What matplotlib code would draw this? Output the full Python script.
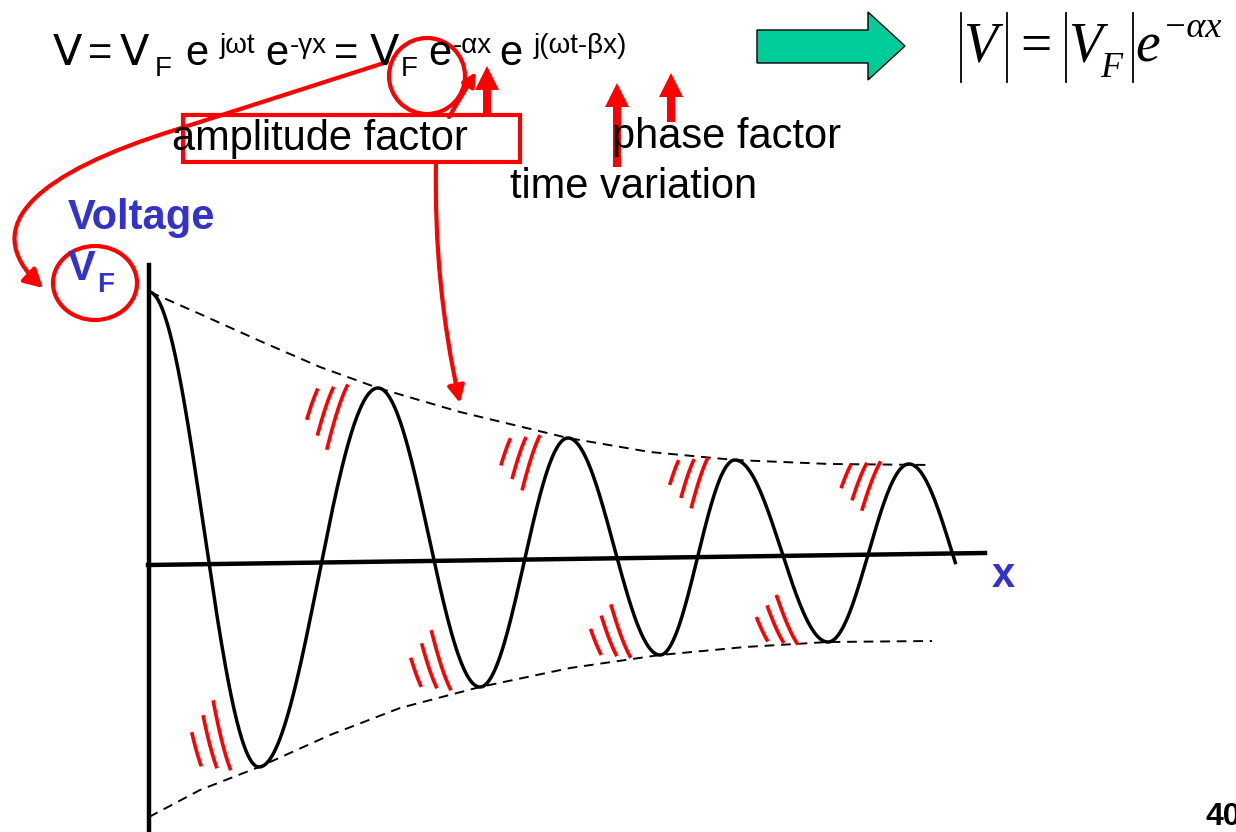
import numpy as np
import matplotlib.pyplot as plt
from matplotlib.patches import Circle, Ellipse, Rectangle, Polygon, FancyArrowPatch
from matplotlib.path import Path

# everything is in pixel units of the 1236x832 slide (y grows downward)
FONT = 'Liberation Sans'
NARROW = 'Liberation Sans Narrow'
SERIF = 'Liberation Serif'
RED = '#ff0000'
BLUE = '#3333cc'
GREEN = '#00cc99'

# extrema of the decaying wave (x, y), last one only steers the tail
ext_x = [149, 259, 378, 480, 568, 660, 735, 828, 909, 995]
ext_y = [292, 767, 388, 687, 438, 655, 460, 642, 464, 640]
wave_end_x = 956

# dashed envelopes
env_up_x = [150, 200, 260, 320, 378, 460, 568, 650, 735, 830, 932]
env_up_y = [292, 314, 341, 367, 388, 412, 438, 452, 460, 464, 465]
env_lo_x = [149, 200, 259, 330, 400, 480, 570, 660, 745, 828, 932]
env_lo_y = [817, 790, 767, 735, 708, 687, 668, 655, 647, 642, 641]

# axes lines
yaxis_x, yaxis_top, yaxis_bot = 149, 265, 832
xaxis_x = [148, 985]
xaxis_y = [565, 553]

# equation pieces: (text, x, baseline, size, family)
eq_pieces = [
    ('V', 53, 65, 31, NARROW), ('=', 88, 65, 30, FONT), ('V', 120, 65, 31, NARROW),
    ('F', 155, 76, 20, FONT), ('e', 185, 65, 30, FONT), ('jωt', 220, 53, 20, FONT),
    ('e', 265, 65, 30, FONT), ('-γx', 290, 53, 20, FONT), ('=', 334, 65, 30, FONT),
    ('V', 370, 65, 31, NARROW), ('F', 401, 76, 20, FONT), ('e', 428, 65, 30, FONT),
    ('-αx', 453, 53, 20, FONT), ('e', 499, 65, 30, FONT), ('j(ωt-βx)', 534, 53, 20, FONT),
]

# |V| = |VF| e^-ax pieces: (text, x, baseline, size)
mag_pieces = [
    ('V', 963, 62, 40), ('=', 1020, 62, 40), ('V', 1068, 62, 40), ('F', 1100, 77, 26),
    ('e', 1135, 62, 40), ('−αx', 1163, 37, 26),
]
mag_bars_x = [961, 1007, 1066, 1133]

fig = plt.figure(figsize=(12.36, 8.32), dpi=100)
ax = fig.add_axes([0, 0, 1, 1])
ax.set_xlim(0, 1236)
ax.set_ylim(832, 0)
ax.axis('off')


def half_wave(x0, y0, x1, y1, n=80):
    t = np.linspace(0, 1, n)
    return x0 + (x1 - x0) * t, y0 + (y1 - y0) * (1 - np.cos(np.pi * t)) / 2


# wave
wx, wy = [], []
for k in range(len(ext_x) - 1):
    sx, sy = half_wave(ext_x[k], ext_y[k], ext_x[k + 1], ext_y[k + 1])
    wx.extend(sx)
    wy.extend(sy)
wx, wy = np.array(wx), np.array(wy)
keep = wx <= wave_end_x
ax.plot(wx[keep], wy[keep], color='black', lw=2.5, solid_capstyle='butt')

# envelopes
ax.plot(env_up_x, env_up_y, color='black', lw=1.4, ls=(0, (5, 3.5)))
ax.plot(env_lo_x, env_lo_y, color='black', lw=1.4, ls=(0, (5, 3.5)))

# axes
ax.plot([yaxis_x, yaxis_x], [yaxis_top, yaxis_bot], color='black', lw=3.2)
ax.plot(xaxis_x, xaxis_y, color='black', lw=3.2)

# red motion strokes beside each extremum
stroke_dx = [-43, -28, -15]
stroke_rng = [(20, 55), (18, 72), (16, 87)]
for k in range(1, len(ext_x) - 1):
    sx, sy = half_wave(ext_x[k - 1], ext_y[k - 1], ext_x[k], ext_y[k], n=300)
    H = abs(ext_y[k] - ext_y[k - 1])
    s = (H / 475.0) ** 0.35
    sign = 1 if ext_y[k] > ext_y[k - 1] else -1
    d = np.abs(sy - ext_y[k])
    for dx, (a, b) in zip(stroke_dx, stroke_rng):
        m = (d >= a * s) & (d <= b * s)
        ax.plot(sx[m] + dx, sy[m] + sign * 20 * s, color=RED, lw=2.6, solid_capstyle='butt')

# top equation
for txt, x, y, fs, fam in eq_pieces:
    ax.text(x, y, txt, fontsize=fs, family=fam, ha='left', va='baseline')

# green arrow
arrow_pts = [(757, 30), (868, 30), (868, 12), (905, 46), (868, 80), (868, 63), (757, 63)]
ax.add_patch(Polygon(arrow_pts, closed=True, facecolor=GREEN, edgecolor='black', lw=1))

# |V| = |VF| e^-ax
for txt, x, y, fs in mag_pieces:
    st = 'normal' if txt == '=' else 'italic'
    ax.text(x, y, txt, fontsize=fs, family=SERIF, style=st, ha='left', va='baseline')
for bx in mag_bars_x:
    ax.plot([bx, bx], [13, 82], color='black', lw=1.3)

# labels
ax.text(172, 150, 'amplitude factor', fontsize=30, family=FONT, va='baseline')
ax.text(612, 148, 'phase factor', fontsize=30, family=FONT, va='baseline')
ax.text(510, 198, 'time variation', fontsize=30, family=FONT, va='baseline')
ax.text(68, 229, 'Voltage', fontsize=30, family=FONT, weight='bold', color=BLUE, va='baseline')
ax.text(68, 280, 'V', fontsize=30, family=FONT, weight='bold', color=BLUE, va='baseline')
ax.text(97, 292, 'F', fontsize=20, family=FONT, weight='bold', color=BLUE, va='baseline')
ax.text(992, 587, 'x', fontsize=30, family=FONT, weight='bold', color=BLUE, va='baseline')
ax.text(1206, 825, '40', fontsize=23, family=FONT, weight='bold', va='baseline')

# red annotations
ax.add_patch(Rectangle((183, 115), 337, 47, fill=False, edgecolor=RED, lw=3))
ax.add_patch(Circle((427, 76), 38, fill=False, edgecolor=RED, lw=3))
ax.add_patch(Ellipse((95, 283), 84, 74, fill=False, edgecolor=RED, lw=3))

# long curved arrow from the equation circle to VF
p = Path([(387, 62), (175, 130), (40, 172), (-25, 225), (43, 288)],
         [Path.MOVETO, Path.LINETO, Path.CURVE4, Path.CURVE4, Path.CURVE4])
ax.add_patch(FancyArrowPatch(path=p, arrowstyle='-|>,head_length=11,head_width=6',
                             color=RED, lw=3))

# short arrow from box to circle
ax.add_patch(FancyArrowPatch((449, 117), (476, 72), arrowstyle='-|>,head_length=8,head_width=4',
                             color=RED, lw=3, shrinkA=0, shrinkB=0))

# arrow from box down to envelope
ax.add_patch(FancyArrowPatch((436, 162), (460, 403), connectionstyle='arc3,rad=0.06',
                             arrowstyle='-|>,head_length=10,head_width=5',
                             color=RED, lw=3, shrinkA=0, shrinkB=0))

# fat up arrows
for x0, y0, y1 in [(487, 114, 66), (617, 167, 83), (671, 122, 73)]:
    ax.arrow(x0, y0, 0, y1 - y0, width=8, head_width=24, head_length=24,
             length_includes_head=True, color=RED, lw=0)

fig.savefig('out.png', dpi=100)
